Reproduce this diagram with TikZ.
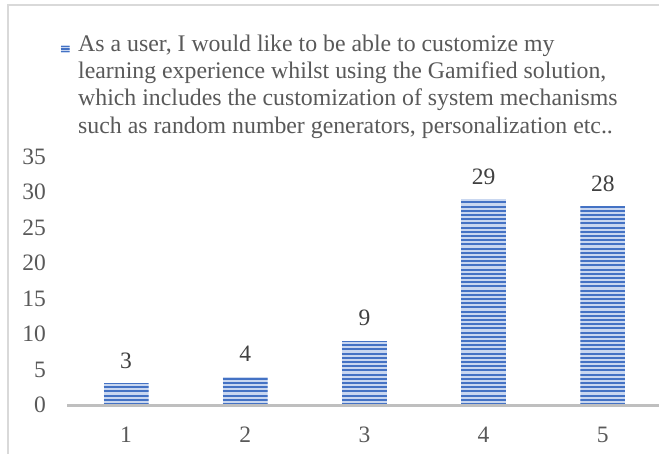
\documentclass[tikz,border=0pt]{standalone}
\usepackage{fontspec}
\setmainfont{Liberation Serif}
\definecolor{txt}{HTML}{595959}
\definecolor{valtxt}{HTML}{404040}
\definecolor{framec}{HTML}{D9D9D9}
\definecolor{axisc}{HTML}{BFBFBF}
\definecolor{bardark}{HTML}{4472C4}
\definecolor{barlight}{HTML}{C9D7F0}
\tikzset{
  ylab/.style={anchor=east, text=txt, font=\fontsize{23.5}{23.5}\selectfont, inner sep=0pt},
  catlab/.style={text=txt, font=\fontsize{23.5}{23.5}\selectfont, inner sep=0pt},
  vallab/.style={text=valtxt, font=\fontsize{23.5}{23.5}\selectfont, inner sep=0pt},
  stripe/.style={draw=bardark, line width=2pt},
  legtext/.style={anchor=north west, text=txt, font=\fontsize{23.8}{27.3}\selectfont, align=left, inner sep=0pt}
}
\begin{document}
\begin{tikzpicture}[x=1pt, y=-1pt]
\useasboundingbox (0,0) rectangle (659,454);
\fill[white] (0,0) rectangle (659,454);
% frame
\draw[framec, line width=2pt] (7.5,454) -- (7.5,5.5) -- (659,5.5);
% legend
\begin{scope}
\clip (60.5,45.5) rectangle (69.5,53);
\fill[barlight] (60.5,45.5) rectangle (69.5,53);
\foreach \k in {0,1,2} { \draw[draw=bardark, line width=1.7pt] (60.5,46.4+2.6*\k) -- (69.5,46.4+2.6*\k); }
\end{scope}
\node[legtext] (leg) at (78,34.6) {As a user, I would like to be able to customize my\\learning experience whilst using the Gamified solution,\\which includes the customization of system mechanisms\\such as random number generators, personalization etc..};
% y labels
\foreach \v in {0,5,...,35} {
  \node[ylab] (y\v) at (46,405-7.09*\v) {\v};
}
% bars
\foreach \i/\v in {1/3,2/4,3/9,4/29,5/28} {
  \pgfmathsetmacro\cx{126+119.2*(\i-1)}
  \pgfmathsetmacro\tp{405-7.09*\v}
  \begin{scope}
    \clip (\cx-22.5,\tp) rectangle (\cx+22.5,405);
    \fill[barlight] (\cx-22.5,\tp) rectangle (\cx+22.5,405);
    \foreach \k in {0,...,50} { \draw[stripe] (\cx-22.5,404-4.2*\k) -- (\cx+22.5,404-4.2*\k); }
  \end{scope}
  \node[vallab] (v\i) at (\cx,\tp-23) {\v};
  \node[catlab] (c\i) at (\cx,435) {\i};
}
% axis
\draw[axisc, line width=3pt] (67,405.5) -- (659,405.5);
\end{tikzpicture}
\end{document}
